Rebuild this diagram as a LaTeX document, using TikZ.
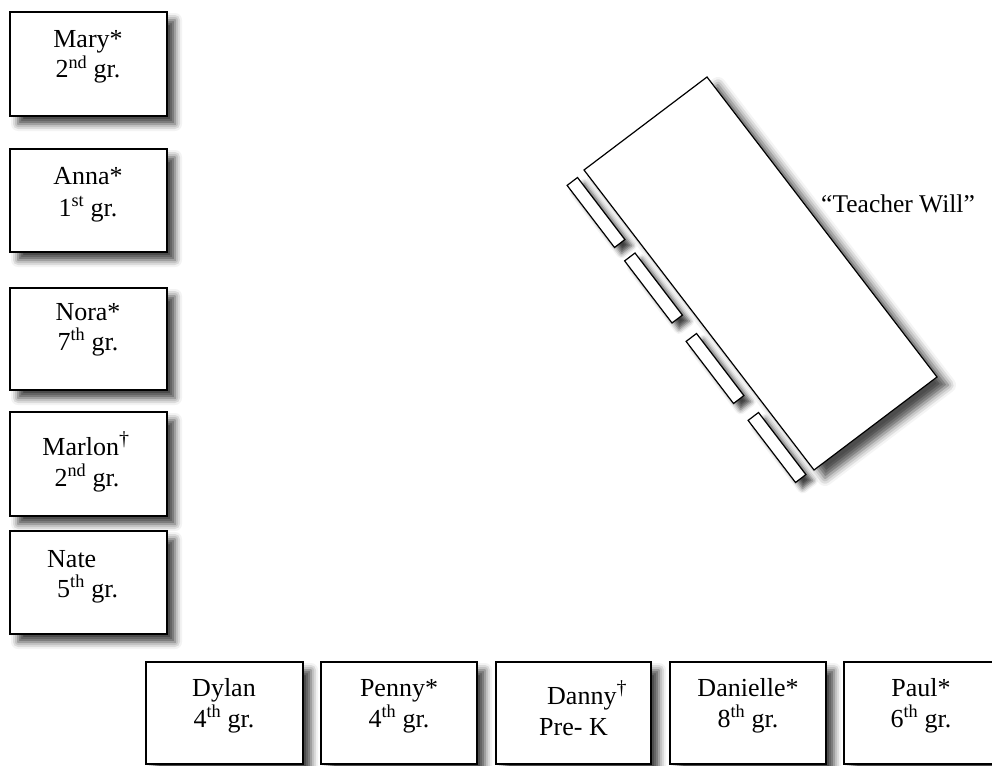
\documentclass[tikz,border=0pt]{standalone}
\usepackage{fontspec}
\setmainfont{Liberation Serif}
\usetikzlibrary{shadows.blur}

\newcommand\dg{\textsuperscript{\fontsize{20}{20}\selectfont\textdagger}}

\begin{document}
\begin{tikzpicture}[x=1pt,y=-1pt,
  softshadow/.style={blur shadow={shadow xshift=8pt, shadow yshift=-8pt,
      shadow blur radius=7pt, shadow opacity=75}},
  seat/.style={draw=black, line width=1.5pt, fill=white, inner sep=0pt,
      minimum width=157pt, minimum height=103pt, softshadow},
  txt/.style={anchor=base, inner sep=0pt, font=\fontsize{26}{30}\selectfont},
  txtl/.style={txt, anchor=base west},
  desk/.style={draw=black, line width=1.2pt, fill=white, line join=miter,
      blur shadow={shadow xshift=11pt, shadow yshift=-8pt,
      shadow blur radius=8pt, shadow opacity=70}},
  benchline/.style={draw=black, line width=1.2pt, fill=white,
      blur shadow={shadow xshift=7pt, shadow yshift=-6pt,
      shadow blur radius=5pt, shadow opacity=75}},
  bench/.pic={\draw[benchline] (-28.9,-27.1) -- (-18.5,-35) -- (28.9,27.1) -- (18.5,35) -- cycle;}
]
\useasboundingbox (0,0) rectangle (992,765);
\clip (0,0) rectangle (992,765);

% left column of student desks
\node[seat, minimum height=104pt] (mary) at (88.5,64) {};
\node[txt] (mary1) at (88,48) {Mary*};
\node[txt] (mary2) at (88,78) {2\textsuperscript{nd} gr.};

\node[seat] (anna) at (88.5,200.5) {};
\node[txt] (anna1) at (88,184) {Anna*};
\node[txt] (anna2) at (88,216) {1\textsuperscript{st} gr.};

\node[seat, minimum height=102pt] (nora) at (88.5,339) {};
\node[txt] (nora1) at (88,320) {Nora*};
\node[txt] (nora2) at (88,350) {7\textsuperscript{th} gr.};

\node[seat, minimum height=104pt] (marlon) at (88.5,464) {};
\node[txt] (marlon1) at (86,455) {Marlon\dg};
\node[txt] (marlon2) at (87,486) {2\textsuperscript{nd} gr.};

\node[seat] (nate) at (88.5,582.5) {};
\node[txtl] (nate1) at (47,567) {Nate};
\node[txtl] (nate2) at (57,597) {5\textsuperscript{th} gr.};

% bottom row of student desks
\node[seat, minimum height=102pt] (dylan) at (224.5,713) {};
\node[txt] (dylan1) at (224,696) {Dylan};
\node[txt] (dylan2) at (224,727) {4\textsuperscript{th} gr.};

\node[seat, minimum width=156pt, minimum height=102pt] (penny) at (399,713) {};
\node[txt] (penny1) at (399,696) {Penny*};
\node[txt] (penny2) at (399,727) {4\textsuperscript{th} gr.};

\node[seat, minimum width=155pt, minimum height=102pt] (danny) at (573.5,713) {};
\node[txtl] (danny1) at (547,704) {Danny\dg};
\node[txtl] (danny2) at (539,735) {Pre- K};

\node[seat, minimum width=156pt, minimum height=102pt] (danielle) at (748,713) {};
\node[txt] (danielle1) at (748,696) {Danielle*};
\node[txt] (danielle2) at (748,727) {8\textsuperscript{th} gr.};

\node[seat, minimum width=156pt, minimum height=102pt] (paul) at (922,713) {};
\node[txt] (paul1) at (921,696) {Paul*};
\node[txt] (paul2) at (921,727) {6\textsuperscript{th} gr.};

% teacher's table and its benches
\draw[desk] (707,77) -- (937,377) -- (814,470) -- (584,170) -- cycle;
\pic at (596,212.5) {bench};
\pic at (653.5,288) {bench};
\pic at (715,368.5) {bench};
\pic at (777,447.5) {bench};

\node[txtl, font=\fontsize{25.5}{30}\selectfont] (teacher) at (821,212) {“Teacher Will”};
\end{tikzpicture}
\end{document}
